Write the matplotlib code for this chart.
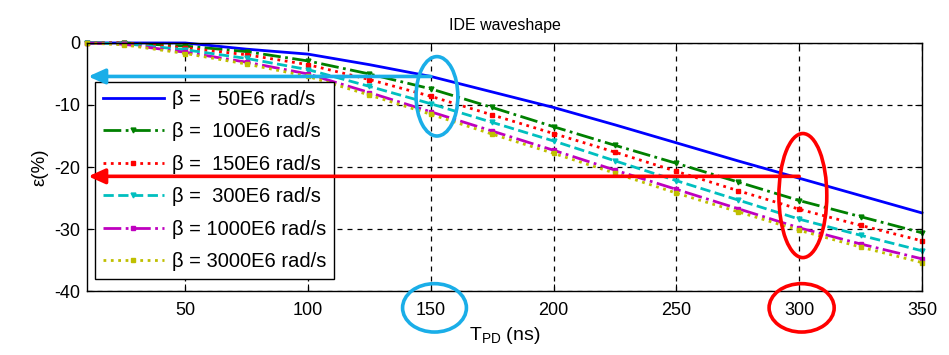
import matplotlib

matplotlib.use("Agg")
import matplotlib.pyplot as plt
from matplotlib.patches import Ellipse

plt.rcParams["font.family"] = ["Liberation Sans", "DejaVu Sans"]
plt.rcParams["mathtext.fontset"] = "custom"
plt.rcParams["mathtext.rm"] = "Liberation Sans"
plt.rcParams["mathtext.it"] = "Liberation Sans"
plt.rcParams["axes.unicode_minus"] = False

# --------------------------------------------------------------------------- #
# data
# --------------------------------------------------------------------------- #
t_pd = [10, 25, 50, 75, 100, 125, 150, 175, 200, 225, 250, 275, 300, 325, 350]

eps_50 = [0, 0, 0, -1.0, -1.8, -3.5, -5.4, -7.9, -10.4, -13.2, -16.1, -19.0, -21.8, -24.6, -27.4]
eps_100 = [0, 0, -0.5, -1.4, -2.9, -5.0, -7.4, -10.4, -13.5, -16.5, -19.4, -22.4, -25.4, -28.0, -30.6]
eps_150 = [0, 0, -0.8, -1.9, -3.5, -5.9, -8.6, -11.6, -14.6, -17.6, -20.7, -23.8, -26.8, -29.4, -31.9]
eps_300 = [0, -0.1, -1.1, -2.5, -4.3, -7.0, -9.8, -12.8, -15.8, -19.0, -22.2, -25.3, -28.4, -31.0, -33.5]
eps_1000 = [0, -0.2, -1.5, -3.1, -5.0, -8.0, -11.1, -14.2, -17.3, -20.5, -23.6, -26.7, -29.8, -32.4, -34.8]
eps_3000 = [0, -0.3, -1.7, -3.4, -5.4, -8.4, -11.5, -14.7, -17.8, -21.0, -24.2, -27.2, -30.2, -32.9, -35.4]

labels = [
    "β =   50E6 rad/s",
    "β =  100E6 rad/s",
    "β =  150E6 rad/s",
    "β =  300E6 rad/s",
    "β = 1000E6 rad/s",
    "β = 3000E6 rad/s",
]
series = [eps_50, eps_100, eps_150, eps_300, eps_1000, eps_3000]

# highlighted readings (blue at 150 ns, red at 300 ns)
mark_t = [150, 300]
mark_eps = [-5.4, -21.5]

# --------------------------------------------------------------------------- #
# styling (MATLAB-ish)
# --------------------------------------------------------------------------- #
colors = ["#0000ff", "#008000", "#ff0000", "#00bfbf", "#bf00bf", "#bfbf00"]
styles = ["-", "-.", ":", "--", "-.", ":"]
markers = [None, "v", "s", "v", "s", "s"]

fig = plt.figure(figsize=(9.49, 3.55), dpi=100)
ax = fig.add_axes([0.0917, 0.180, 0.8798, 0.699])

for y, lab, c, ls, m in zip(series, labels, colors, styles, markers):
    ax.plot(t_pd, y, color=c, ls=ls, lw=2.0, marker=m, ms=3.5, label=lab, clip_on=False)

ax.set_xlim(10, 350)
ax.set_ylim(-40, 0)
ax.set_xticks([50, 100, 150, 200, 250, 300, 350])
ax.set_yticks([-40, -30, -20, -10, 0])
ax.tick_params(direction="in", top=True, right=True, labelsize=13, length=5)
ax.tick_params(axis="x", pad=8)
ax.tick_params(axis="y", pad=5)
ax.grid(True, color="black", ls=(0, (4, 4)), lw=0.9)
for s in ax.spines.values():
    s.set_linewidth(1.0)

ax.set_title("IDE waveshape", fontsize=11.5, pad=9)
ax.set_xlabel("T$_{\\mathregular{PD}}$ (ns)", fontsize=14, labelpad=4)
ax.set_ylabel("ε(%)", fontsize=13.5, labelpad=4)

leg = ax.legend(loc="lower left", bbox_to_anchor=(0.0096, 0.048), borderaxespad=0,
                fontsize=14.5, handlelength=3.0, labelspacing=0.67, borderpad=0.4,
                handletextpad=0.4, fancybox=False, framealpha=1, edgecolor="black",
                numpoints=1)
leg.get_frame().set_linewidth(1.0)

# arrows from the circled curve points back to the y axis
arrow_colors = ["#1aaee8", "#ff0000"]
for t, e, c in zip(mark_t, mark_eps, arrow_colors):
    ax.annotate("", xy=(10.5, e), xytext=(t, e), zorder=6, annotation_clip=False,
                arrowprops=dict(arrowstyle="-|>,head_length=1.0,head_width=0.45",
                                color=c, lw=2.6, shrinkA=0, shrinkB=0))

# ellipses around curve bundles and tick labels
for (cx, cy, w, h), c in [
    ((152.5, -8.6, 17, 12.8), "#1aaee8"),
    ((301.5, -24.6, 19.5, 20.0), "#ff0000"),
    ((151.5, -42.7, 26, 7.8), "#1aaee8"),
    ((301.0, -42.7, 26.5, 7.8), "#ff0000"),
]:
    ax.add_patch(Ellipse((cx, cy), w, h, fill=False, edgecolor=c, lw=2.6,
                         clip_on=False, zorder=7))

fig.savefig("out.png", dpi=100)
